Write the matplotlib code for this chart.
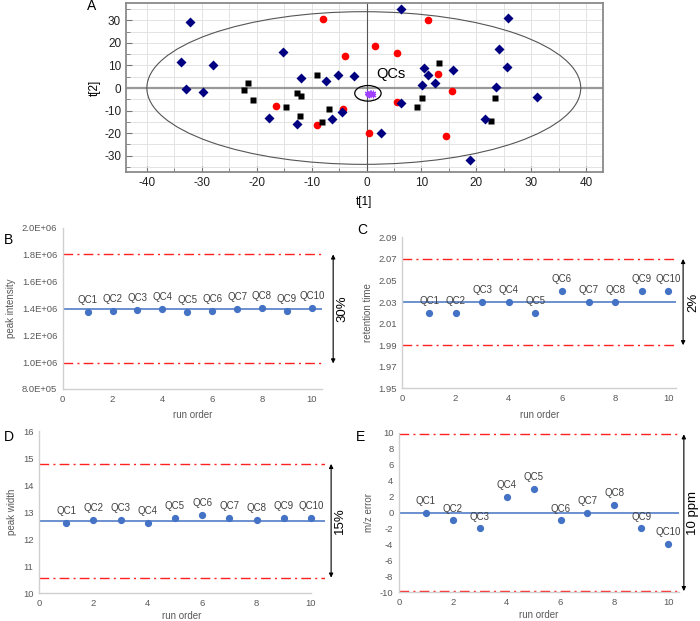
import numpy as np
import matplotlib
matplotlib.use('Agg')
import matplotlib.pyplot as plt
from matplotlib.patches import Ellipse
from matplotlib.ticker import MultipleLocator, FuncFormatter

plt.rcParams['font.family'] = ['Liberation Sans', 'DejaVu Sans']
plt.rcParams['axes.unicode_minus'] = False

# ---- panel A: PCA score plot ----
blue_x = [6.2, -32.1, -33.8, -27.9, -32.8, -29.7, -15.2, -11.9, -7.3, -5.2, -2.3, -17.8, -12.7,
          -6.2, -4.4, 2.6, 6.2, 10.4, 11.2, 10.1, 12.4, 25.8, 24.1, 25.5, 15.8, 23.6, 31.0, 21.5, 18.8]
blue_y = [34.8, 29.4, 11.4, 10.0, -0.4, -1.8, 15.9, 4.5, 3.3, 5.9, 5.1, -13.4, -15.8,
          -13.7, -10.6, -20.0, -6.8, 8.7, 5.9, 1.5, 2.3, 30.8, 17.3, 9.5, 8.1, 0.4, -3.8, -13.9, -31.7]
red_x = [-8.0, -3.9, -16.4, -4.2, -9.1, 0.5, 5.5, 11.1, 1.6, 5.6, 13.0, 15.5, 14.4]
red_y = [30.6, 14.1, -8.0, -9.2, -16.3, -20.0, -6.1, 30.2, 18.7, 15.6, 6.3, -1.3, -21.3]
black_x = [-21.6, -22.4, -20.7, -9.0, -12.7, -11.9, -14.7, -6.8, -12.1, -8.1, 10.1, 9.1, 13.2, 23.3, 22.6]
black_y = [2.4, -0.7, -5.1, 5.6, -2.1, -3.7, -8.4, -9.5, -12.4, -14.9, -4.5, -8.6, 11.2, -4.3, -14.7]
qc_x = [0.0, 0.3, 0.6, 0.9, 1.2, 0.4, 0.8, 1.1, 0.2, 0.7]
qc_y = [-2.3, -2.6, -2.1, -2.8, -2.4, -3.0, -2.2, -2.9, -2.7, -2.5]

# ---- panels B-E: QC run data ----
run_order = [1, 2, 3, 4, 5, 6, 7, 8, 9, 10]
qc_labels = ['QC1', 'QC2', 'QC3', 'QC4', 'QC5', 'QC6', 'QC7', 'QC8', 'QC9', 'QC10']
intensity = [1.373e6, 1.378e6, 1.39e6, 1.395e6, 1.37e6, 1.38e6, 1.395e6, 1.402e6, 1.38e6, 1.405e6]
intensity_mean = 1.395e6
intensity_limits = [1.8e6, 0.99e6]
rt = [2.02, 2.02, 2.03, 2.03, 2.02, 2.04, 2.03, 2.03, 2.04, 2.04]
rt_mean = 2.03
rt_limits = [2.07, 1.99]
width = [12.6, 12.7, 12.7, 12.6, 12.8, 12.9, 12.8, 12.7, 12.8, 12.8]
width_mean = 12.68
width_limits = [14.79, 10.58]
mz_err = [0, -1, -2, 2, 3, -1, 0, 1, -2, -4]
mz_mean = 0
mz_limits = [9.8, -9.85]

fig = plt.figure(figsize=(7.0, 6.21), dpi=100)

# panel A
ax = fig.add_axes([0.18, 0.723, 0.681, 0.272])
ax.set_xlim(-43.8, 43)
ax.set_ylim(-37.2, 37.6)
ax.xaxis.set_major_locator(MultipleLocator(10))
ax.xaxis.set_minor_locator(MultipleLocator(5))
ax.yaxis.set_major_locator(MultipleLocator(10))
ax.yaxis.set_minor_locator(MultipleLocator(5))
ax.grid(True, which='both', color='#e3e3e3', lw=0.7)
ax.set_axisbelow(True)
ax.tick_params(which='both', direction='in', color='#777777', labelsize=8.5, labelcolor='#222222')
ax.tick_params(which='major', length=4)
ax.tick_params(which='minor', length=3)
for s in ax.spines.values():
    s.set_color('#8a8a8a')
    s.set_linewidth(1.3)
ax.axhline(0, color='#999999', lw=1.6, zorder=1)
ax.axvline(0, color='#555555', lw=0.8, zorder=1)
ax.add_patch(Ellipse((-0.5, 0), 79, 67.6, fill=False, ec='#555555', lw=0.8))
ax.add_patch(Ellipse((0.25, -2.35), 4.8, 6.9, fill=False, ec='black', lw=0.9))
ax.plot(red_x, red_y, 'o', color='#ff0000', ms=5.5, mec='none', zorder=3)
ax.plot(black_x, black_y, 's', color='black', ms=4.8, mec='none', zorder=3)
ax.plot(blue_x, blue_y, 'D', color='#000080', ms=4.6, mec='none', zorder=4)
ax.plot(qc_x, qc_y, marker=(6, 2, 0), ls='none', color='#a040ff', ms=4, mew=0.8, zorder=5)
ax.text(1.7, 6.4, 'QCs', fontsize=10.5, va='center', ha='left')
ax.set_xlabel('t[1]', fontsize=8.5, labelpad=5)
ax.set_ylabel('t[2]', fontsize=8.5, labelpad=2)
fig.text(0.131, 0.99, 'A', fontsize=10, ha='center', va='center')


def qc_panel(rect, y, mean, limits, ylim, ystep, xmax, ylabel, fmt, arrow_x, note, note_x,
             letter, letter_xy, xlabelpad=5):
    ax = fig.add_axes(rect)
    ax.set_xlim(0, xmax)
    ax.set_ylim(*ylim)
    ax.set_xticks([0, 2, 4, 6, 8, 10])
    ax.set_yticks(np.arange(ylim[0], ylim[1] + ystep / 2, ystep))
    ax.yaxis.set_major_formatter(FuncFormatter(fmt))
    ax.tick_params(length=0, labelsize=6.8, labelcolor='#595959', pad=4)
    for side in ['top', 'right']:
        ax.spines[side].set_visible(False)
    for side in ['left', 'bottom']:
        ax.spines[side].set_color('#d0d0d0')
        ax.spines[side].set_linewidth(1.0)
    ax.axhline(mean, color='#4472c4', lw=1.1, zorder=2)
    for lim in limits:
        ax.axhline(lim, color='#ff2020', lw=1.0, ls=(0, (7, 3, 1.5, 3)), zorder=2)
    ax.plot(run_order, y, 'o', color='#4472c4', ms=4.2, zorder=3)
    for xi, yi, lab in zip(run_order, y, qc_labels):
        ax.annotate(lab, (xi, yi), xytext=(0, 5), textcoords='offset points',
                    ha='center', va='bottom', fontsize=7, color='#404040')
    ax.annotate('', xy=(arrow_x, limits[1]), xytext=(arrow_x, limits[0]),
                arrowprops=dict(arrowstyle='<|-|>', color='black', lw=0.8, mutation_scale=6,
                                shrinkA=0, shrinkB=0), annotation_clip=False)
    ax.text(note_x, (limits[0] + limits[1]) / 2, note, rotation=90, fontsize=9.5,
            ha='center', va='center', clip_on=False)
    ax.set_xlabel('run order', fontsize=7, color='#595959', labelpad=xlabelpad)
    ax.set_ylabel(ylabel, fontsize=7, color='#595959', labelpad=4)
    fig.text(letter_xy[0], letter_xy[1], letter, fontsize=10, ha='center', va='center')
    return ax


qc_panel([0.0896, 0.3736, 0.370, 0.260], intensity, intensity_mean, intensity_limits,
         (8.0e5, 2.0e6), 2e5, 10.4, 'peak intensity', lambda v, p: f'{v:.1E}',
         10.86, '30%', 11.22, 'B', (0.012, 0.614))
qc_panel([0.575, 0.3747, 0.391, 0.243], rt, rt_mean, rt_limits,
         (1.95, 2.09), 0.02, 10.3, 'retention time', lambda v, p: f'{v:.2f}',
         10.56, '2%', 10.93, 'C', (0.517, 0.629))
axd = qc_panel([0.0557, 0.0446, 0.408, 0.261], width, width_mean, width_limits,
               (10, 16), 1, 10.5, 'peak width', lambda v, p: f'{v:.0f}',
               10.74, '15%', 11.07, 'D', (0.012, 0.296), xlabelpad=2.5)
axd.spines['bottom'].set_bounds(0, 10)
qc_panel([0.570, 0.0462, 0.400, 0.257], mz_err, mz_mean, mz_limits,
         (-10, 10), 2, 10.4, 'm/z error', lambda v, p: f'{v:.0f}',
         10.58, '10 ppm', 10.92, 'E', (0.515, 0.296), xlabelpad=2.5)

fig.savefig('out.png', dpi=100)
